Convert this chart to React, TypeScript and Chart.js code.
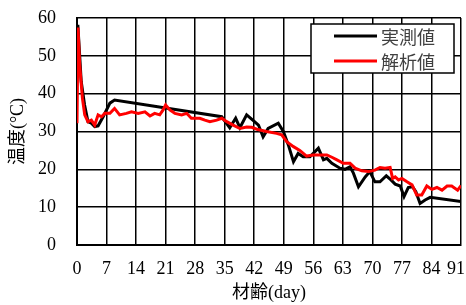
import React, { useEffect, useRef } from "react";
import { Chart, registerables } from "chart.js";

Chart.register(...registerables);

const seriesNames = ["実測値", "解析値"];
const xTitle = "材齢(day)";
const yTitle = "温度(°C)";

const measuredDays = [0.2, 1.0, 1.8, 2.6, 3.4, 4.2, 5.0, 6.2, 7.8, 8.9, 34.3, 36.2, 37.6, 38.6, 40.2, 41.8, 43.0, 44.1, 45.3, 47.7, 48.9, 50.1, 51.3, 52.4, 53.6, 55.2, 57.2, 58.4, 59.2, 60.4, 62.3, 63.5, 64.7, 65.5, 66.7, 68.3, 69.4, 70.6, 71.8, 73.3, 74.4, 75.4, 76.6, 77.5, 78.5, 79.5, 80.3, 81.3, 82.5, 83.7, 91];
const measuredTemps = [58.2, 43.2, 37, 32.6, 32.2, 31.3, 31.5, 33.9, 37.5, 38.3, 33.9, 31, 33.5, 31, 34.4, 32.9, 31.7, 28.6, 30.8, 32.2, 30, 26.4, 22, 24.2, 23.3, 23.3, 25.6, 22.5, 22.9, 21.6, 20.3, 20, 20.7, 19, 15.4, 18, 19.4, 16.7, 16.7, 18.3, 17.2, 16.1, 15.6, 12.8, 15.2, 15.4, 14.1, 11, 11.9, 12.6, 11.5];

const analysisDays = [0, 0.24, 0.64, 1.28, 1.83, 2.6, 3.4, 4.2, 5.0, 5.8, 6.6, 7.8, 8.9, 10.1, 11.7, 12.9, 14.5, 16.1, 17.3, 18.4, 19.6, 20.4, 21.0, 22.0, 23.2, 24.8, 26.0, 27.1, 29.1, 30.3, 31.5, 33.1, 34.3, 35.5, 37.0, 38.6, 40.2, 41.4, 42.6, 44.9, 47.3, 48.5, 49.7, 51.3, 52.8, 54.4, 56.0, 57.6, 59.2, 60.4, 61.6, 63.1, 64.7, 65.9, 67.5, 69.1, 70.6, 71.8, 73.0, 74.2, 74.8, 75.4, 76.2, 77.0, 78.2, 79.4, 80.5, 81.7, 82.9, 84.1, 85.3, 86.5, 87.7, 88.8, 90.2, 91];
const analysisTemps = [32.2, 57.5, 47.6, 38.8, 34.4, 32.6, 33, 31.7, 34.4, 33.9, 34.8, 34.8, 36.1, 34.4, 34.8, 35.2, 34.8, 35.2, 34.1, 34.8, 34.4, 35.7, 37, 35.7, 34.8, 34.4, 34.8, 33.5, 33.5, 33, 32.6, 33, 33.5, 32.6, 31.7, 30.8, 31.2, 31.1, 30.6, 30, 29.5, 29.1, 27.3, 26, 25, 23.5, 23.8, 23.8, 23.8, 23.2, 22.5, 21.6, 21.6, 20.3, 19.6, 19.4, 19.8, 20.5, 20.3, 20.5, 17.6, 18, 17.2, 17.6, 16.7, 15.9, 13.2, 13.2, 15.6, 14.7, 15.2, 14.5, 15.6, 15.6, 14.5, 15.7];

const xMin = 0;
const xMax = 91;
const xStep = 7;
const yMin = 0;
const yMax = 60;
const yStep = 10;

const serif = "'Liberation Serif', 'Noto Sans CJK JP', serif";
const cjk = "'Noto Sans CJK JP', 'Liberation Sans', sans-serif";

const lastLabelPlugin = {
  id: "lastLabelFit",
  beforeDraw(chart: any) {
    const scale = chart.scales.x;
    const items = scale.getLabelItems();
    if (!items || !items.length) return;
    const last = items[items.length - 1];
    last.options.textAlign = "right";
    last.options.translation = [chart.width - 1, last.options.translation[1]];
  },
};

const legendPlugin = {
  id: "boxLegend",
  afterDraw(chart: any) {
    const ctx = chart.ctx;
    const area = chart.chartArea;
    const w = 143;
    const h = 49;
    const x0 = area.right - 7 - w;
    const y0 = area.top + 6;
    ctx.save();
    ctx.fillStyle = "#ffffff";
    ctx.fillRect(x0, y0, w, h);
    ctx.strokeStyle = "#000000";
    ctx.lineWidth = 1.5;
    ctx.strokeRect(x0, y0, w, h);
    const colors = ["#000000", "#ff0000"];
    ctx.font = "18px " + cjk;
    ctx.textBaseline = "middle";
    ctx.textAlign = "left";
    seriesNames.forEach((name, i) => {
      const cy = y0 + 12 + i * 25;
      ctx.strokeStyle = colors[i];
      ctx.lineWidth = 3;
      ctx.beginPath();
      ctx.moveTo(x0 + 23, cy);
      ctx.lineTo(x0 + 66, cy);
      ctx.stroke();
      ctx.fillStyle = "#404040";
      ctx.fillText(name, x0 + 70, cy + 1);
    });
    ctx.restore();
  },
};

export default function App() {
  const ref = useRef<HTMLCanvasElement | null>(null);
  useEffect(() => {
    if (!ref.current) return;
    const toPoints = (xs: number[], ys: number[]) => xs.map((x, i) => ({ x, y: ys[i] }));
    const chart = new Chart(ref.current, {
      type: "line",
      data: {
        datasets: [
          {
            label: seriesNames[1],
            data: toPoints(analysisDays, analysisTemps),
            borderColor: "#ff0000",
            backgroundColor: "#ff0000",
            borderWidth: 3,
            pointRadius: 0,
            tension: 0,
          },
          {
            label: seriesNames[0],
            data: toPoints(measuredDays, measuredTemps),
            borderColor: "#000000",
            backgroundColor: "#000000",
            borderWidth: 3,
            pointRadius: 0,
            tension: 0,
          },
        ],
      },
      options: {
        animation: false,
        responsive: false,
        maintainAspectRatio: false,
        layout: { padding: { left: 0, top: 18, right: 5, bottom: 0 } },
        plugins: { legend: { display: false }, tooltip: { enabled: false } },
        scales: {
          x: {
            type: "linear",
            min: xMin,
            max: xMax,
            ticks: { stepSize: xStep, color: "#000", font: { family: serif, size: 18 }, padding: 13, maxRotation: 0 },
            grid: { color: "#000", lineWidth: 1.5, drawTicks: false },
            border: { color: "#000", width: 2 },
            title: { display: true, text: xTitle, color: "#000", font: { family: serif, size: 18 }, padding: { top: 0, bottom: 1 } },
            afterFit: (scale: any) => {
              scale.height = 60;
              scale.paddingRight = 0;
              scale.paddingLeft = 0;
            },
          },
          y: {
            type: "linear",
            min: yMin,
            max: yMax,
            ticks: { stepSize: yStep, color: "#000", font: { family: serif, size: 18 }, padding: 21 },
            grid: { color: "#000", lineWidth: 1.5, drawTicks: false },
            border: { color: "#000", width: 2 },
            title: { display: true, text: yTitle, color: "#000", font: { family: serif, size: 18 }, padding: { top: 7, bottom: 0 } },
            afterFit: (scale: any) => {
              scale.width = 77;
              scale.paddingTop = 0;
              scale.paddingBottom = 0;
            },
          },
        },
      },
      plugins: [lastLabelPlugin, legendPlugin],
    });
    return () => chart.destroy();
  }, []);
  return (
    <div style={{ position: "fixed", left: 0, top: 0, width: 466, height: 305, background: "#fff" }}>
      <canvas ref={ref} width={466} height={305} />
    </div>
  );
}
